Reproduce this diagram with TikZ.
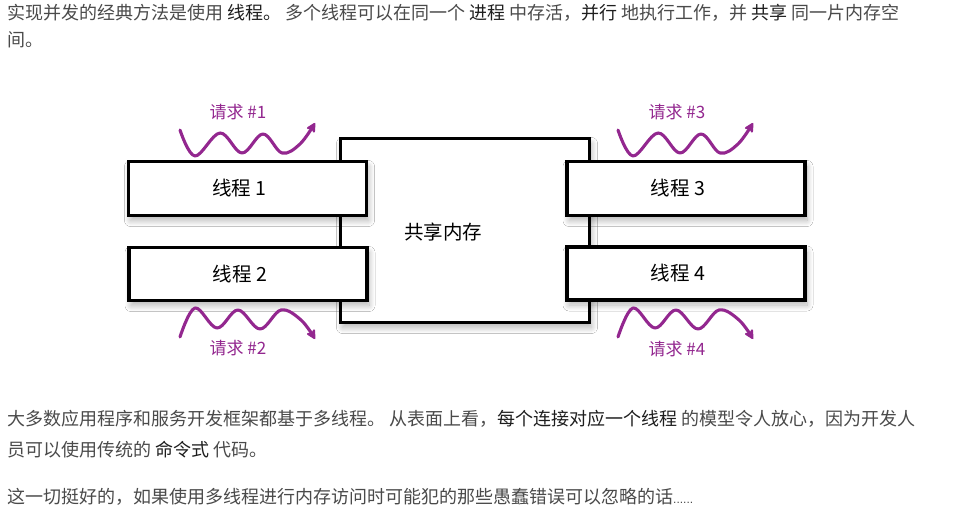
\documentclass[tikz,border=0pt]{standalone}
\usepackage{fontspec}
\setmainfont{Noto Sans CJK SC}
\newfontfamily\latinf{Liberation Sans}
\usetikzlibrary{arrows.meta,shadows.blur}
\definecolor{txt}{HTML}{4A4A4A}
\definecolor{emph}{HTML}{1E1E1E}
\definecolor{req}{HTML}{93278F}
\begin{document}
\begin{tikzpicture}[x=1pt,y=-1pt,
  para/.style={anchor=base west, inner sep=0pt, text=txt, font=\fontsize{18}{22}\selectfont},
  box/.style={draw=black, line width=3.3pt, fill=white,
    blur shadow={shadow xshift=2pt, shadow yshift=-5pt, shadow blur radius=6pt, shadow blur steps=12, shadow opacity=30}},
  thread/.style={box, inner sep=0pt, minimum width=238pt, minimum height=54pt},
  tlabel/.style={font=\fontsize{19.5}{22}\selectfont, text=black},
  reqlabel/.style={font=\fontsize{17}{18}\selectfont, text=req, inner sep=0pt},
  reqwave/.style={draw=req, line width=3.1pt, line cap=round, line join=round,
    -{Stealth[length=12pt,width=12pt,inset=4pt,round]}}
]
\fill[white] (0,0) rectangle (961,521);
\useasboundingbox (0,0) rectangle (961,521);

% paragraph 1
\node[para] (p1a) at (7,20) {实现并发的经典方法是使用 {\color{emph}线程。} 多个线程可以在同一个 {\color{emph}进程} 中存活，{\color{emph}并行} 地执行工作，并 {\color{emph}共享} 同一片内存空};
\node[para] (p1b) at (7,47) {间。};

% shared memory
\node[box, inner sep=0pt, minimum width=249pt, minimum height=184pt] (mem) at (465,230.5) {};
\node[tlabel] (memlabel) at (443,232) {共享内存};

% threads
\node[thread, label={[tlabel, xshift=-8pt]center:线程 1}] (t1) at (247.5,188.5) {};
\node[thread, minimum height=53pt, label={[tlabel, xshift=-8pt]center:线程 2}] (t2) at (248,274) {};
\node[thread, label={[tlabel, xshift=-8pt]center:线程 3}] (t3) at (686,188.5) {};
\node[thread, minimum height=53pt, label={[tlabel, xshift=-8pt]center:线程 4}] (t4) at (686,273.5) {};

% request labels
\node[reqlabel] (r1) at (238,112) {请求 \#1};
\node[reqlabel] (r2) at (238,348) {请求 \#2};
\node[reqlabel] (r3) at (677,112) {请求 \#3};
\node[reqlabel] (r4) at (677,349) {请求 \#4};

% waves
\coordinate (w1s) at (180,130); \coordinate (w1e) at (315,123);
\coordinate (w2s) at (180,337); \coordinate (w2e) at (315,339);
\coordinate (w3s) at (618,130); \coordinate (w3e) at (753,123);
\coordinate (w4s) at (618,337); \coordinate (w4e) at (753,339);
\draw[reqwave] plot[smooth, tension=0.6] coordinates {(w1s) (195,156) (220,133) (242,153) (263,134) (282,153) (300,144) (w1e)};
\draw[reqwave] plot[smooth, tension=0.6] coordinates {(w2s) (195,308) (217,328) (238,310) (260,329) (281,310) (301,320) (w2e)};
\draw[reqwave] plot[smooth, tension=0.6] coordinates {(w3s) (633,156) (658,133) (680,153) (701,134) (720,153) (738,144) (w3e)};
\draw[reqwave] plot[smooth, tension=0.6] coordinates {(w4s) (633,308) (655,328) (676,310) (698,329) (719,310) (739,320) (w4e)};

% paragraph 2
\node[para] (p2a) at (7,425) {大多数应用程序和服务开发框架都基于多线程。 从表面上看，{\color{emph}每个连接对应一个线程} 的模型令人放心，因为开发人};
\node[para] (p2b) at (7,456) {员可以使用传统的 {\color{emph}命令式} 代码。};

% paragraph 3
\node[para] (p3) at (7,503) {这一切挺好的，如果使用多线程进行内存访问时可能犯的那些愚蠢错误可以忽略的话{\latinf\fontsize{12}{12}\selectfont ......}};
\end{tikzpicture}
\end{document}
